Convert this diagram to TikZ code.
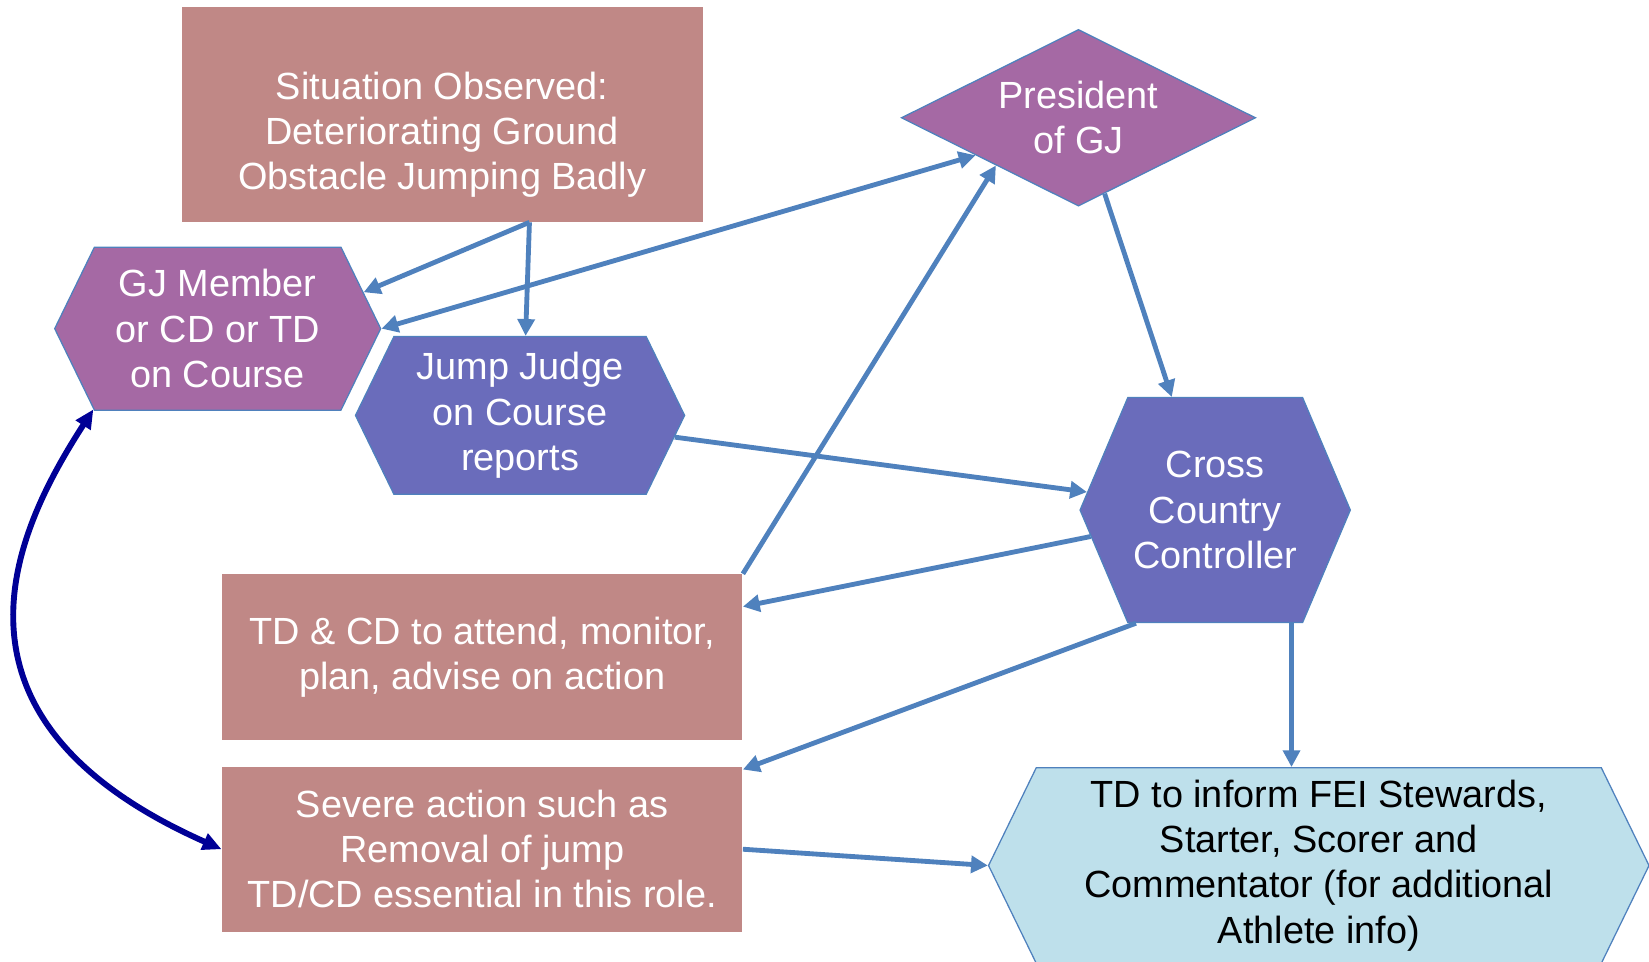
\documentclass[tikz,border=0pt]{standalone}
\usepackage{fontspec}
\setmainfont{Liberation Sans}
\usetikzlibrary{arrows.meta,shapes.geometric,shapes.symbols}
\definecolor{boxrose}{RGB}{192,136,134}
\definecolor{gjpurple}{RGB}{165,105,164}
\definecolor{jjblue}{RGB}{106,108,187}
\definecolor{tdblue}{RGB}{190,224,235}
\definecolor{arrowblue}{RGB}{79,129,189}
\definecolor{curvenavy}{RGB}{0,0,150}
\tikzset{every node/.style={ % Common text settings
            font=\fontsize{18}{21.5}\selectfont,
            align=center,
            inner sep=0pt},
        box/.style={ % Plain rectangles
            fill=boxrose,
            text=white,
            minimum width=247.5pt},
        hexa/.style={ % Hexagons, pointed left and right
            signal,
            signal to=east and west,
            draw=arrowblue,
            line width=0.6pt,
            text=white},
        flow/.style={ % Straight connectors
            draw=arrowblue,
            line width=2.3pt,
            -{Triangle[length=8pt,width=8pt]}},
        link/.style={ % Curved two-way connector
            draw=curvenavy,
            line width=2.8pt,
            {Triangle[length=9pt,width=8pt]}-{Triangle[length=9pt,width=8pt]}}
        }

\begin{document}
\begin{tikzpicture}[x=0.5pt,y=-0.5pt]
    \useasboundingbox (0,0) rectangle (1568,914);

    \node[box, minimum height=102pt] (sit) at (420.5,109)
        {\raisebox{-10pt}[\height][\depth]{\begin{tabular}{@{}c@{}}Situation Observed:\\Deteriorating Ground\\Obstacle Jumping Badly\end{tabular}}};
    \node[hexa, fill=gjpurple, signal pointer angle=128, minimum width=155pt, minimum height=77.5pt] (gj) at (207,312.5) {GJ Member\\or CD or TD\\on Course};
    \node[hexa, fill=jjblue, signal pointer angle=128, minimum width=156.5pt, minimum height=75pt] (jj) at (494.5,395) {Jump Judge\\on Course\\reports};
    \node[diamond, aspect=2, fill=gjpurple, draw=arrowblue, line width=0.6pt, text=white, minimum width=168.5pt, minimum height=84pt] (pres) at (1025.5,112) {President\\of GJ};
    \node[hexa, fill=jjblue, signal pointer angle=134, minimum width=128.5pt, minimum height=107pt] (ccc) at (1155.5,485) {Cross\\Country\\Controller};
    \node[box, minimum height=79pt] (tdcd) at (458.5,625) {TD \& CD to attend, monitor,\\plan, advise on action};
    \node[box, minimum height=78.5pt] (sev) at (458.5,807.5) {Severe action such as\\Removal of jump\\TD/CD essential in this role.};
    \node[hexa, fill=tdblue, text=black, signal pointer angle=128, minimum width=314pt, minimum height=93pt] (tdi) at (1254,823) {TD to inform FEI Stewards,\\Starter, Scorer and\\Commentator (for additional\\Athlete info)};

    \draw[flow] (sit.-51) -- (gj.14);
    \draw[flow] (sit.-51) -- (jj.86);
    \draw[flow, {Triangle[length=8pt,width=8pt]}-{Triangle[length=8pt,width=8pt]}] (gj.east) -- (pres.200);
    \draw[flow] (tdcd.north east) -- (pres.210);
    \draw[flow] (pres.-71) -- (ccc.111);
    \draw[flow] (jj.-8) -- (ccc.172);
    \draw[flow] (ccc.192) -- (tdcd.11);
    \draw[flow] (ccc.235) -- (sev.17);
    \draw[flow] (ccc.-56) -- (ccc.-56 |- tdi.north);
    \draw[flow] (sev.east) -- (tdi.west);
    \draw[link] (gj.213) .. controls +(-73,113) and +(-284,-126) .. (sev.west);
\end{tikzpicture}
\end{document}
